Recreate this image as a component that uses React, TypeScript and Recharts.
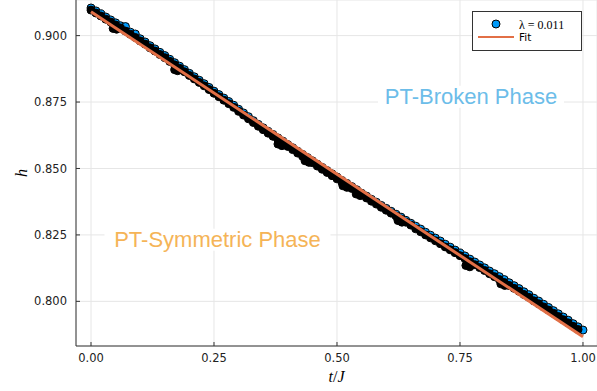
import React from 'react';
import {
  ComposedChart,
  Scatter,
  Line,
  XAxis,
  YAxis,
  CartesianGrid,
  ReferenceDot,
  Legend,
} from 'recharts';

// time grid t/J
const tValues = [
  0.0, 0.01, 0.02, 0.03, 0.04, 0.05, 0.06, 0.07, 0.08, 0.09,
  0.1, 0.11, 0.12, 0.13, 0.14, 0.15, 0.16, 0.17, 0.18, 0.19,
  0.2, 0.21, 0.22, 0.23, 0.24, 0.25, 0.26, 0.27, 0.28, 0.29,
  0.3, 0.31, 0.32, 0.33, 0.34, 0.35, 0.36, 0.37, 0.38, 0.39,
  0.4, 0.41, 0.42, 0.43, 0.44, 0.45, 0.46, 0.47, 0.48, 0.49,
  0.5, 0.51, 0.52, 0.53, 0.54, 0.55, 0.56, 0.57, 0.58, 0.59,
  0.6, 0.61, 0.62, 0.63, 0.64, 0.65, 0.66, 0.67, 0.68, 0.69,
  0.7, 0.71, 0.72, 0.73, 0.74, 0.75, 0.76, 0.77, 0.78, 0.79,
  0.8, 0.81, 0.82, 0.83, 0.84, 0.85, 0.86, 0.87, 0.88, 0.89,
  0.9, 0.91, 0.92, 0.93, 0.94, 0.95, 0.96, 0.97, 0.98, 0.99,
  1.0,
];

// h(t) for lambda = 0.011
const hLambda = [
  0.9104, 0.9093, 0.9082, 0.907, 0.9059, 0.9048, 0.9037, 0.9034, 0.9013, 0.9006,
  0.8988, 0.8976, 0.8962, 0.895, 0.8937, 0.8925, 0.8911, 0.8898, 0.8885, 0.8872,
  0.8858, 0.8845, 0.8832, 0.8819, 0.8805, 0.8791, 0.8778, 0.8765, 0.8752, 0.8738,
  0.8723, 0.8709, 0.8695, 0.868, 0.8666, 0.8653, 0.864, 0.8628, 0.8615, 0.8603,
  0.859, 0.8578, 0.8565, 0.8553, 0.8541, 0.8529, 0.8516, 0.8504, 0.8492, 0.848,
  0.8468, 0.8455, 0.8444, 0.8432, 0.842, 0.8407, 0.8396, 0.8384, 0.8373, 0.8361,
  0.835, 0.8339, 0.8328, 0.8317, 0.8305, 0.8294, 0.8283, 0.8272, 0.826, 0.8249,
  0.8238, 0.8227, 0.8215, 0.8204, 0.8193, 0.8182, 0.8171, 0.8159, 0.8148, 0.8137,
  0.8126, 0.8114, 0.8104, 0.8093, 0.8082, 0.807, 0.8059, 0.8048, 0.8036, 0.8025,
  0.8012, 0.8001, 0.7989, 0.7977, 0.7965, 0.7953, 0.7941, 0.7929, 0.7916, 0.7904,
  0.7892,
];

// trajectory samples drawn in black (no legend entry)
const hTrajectory = [
  0.9096, 0.9085, 0.9074, 0.9062, 0.9051, 0.904, 0.9029, 0.9017, 0.9005, 0.8993,
  0.898, 0.8968, 0.8954, 0.8942, 0.8929, 0.8917, 0.8903, 0.889, 0.8877, 0.8864,
  0.885, 0.8837, 0.8824, 0.8811, 0.8797, 0.8783, 0.877, 0.8757, 0.8744, 0.873,
  0.8715, 0.8701, 0.8687, 0.8673, 0.8659, 0.8646, 0.8633, 0.8621, 0.8608, 0.8596,
  0.8583, 0.8571, 0.8558, 0.8546, 0.8534, 0.8522, 0.8509, 0.8497, 0.8485, 0.8473,
  0.8461, 0.8448, 0.8437, 0.8425, 0.8413, 0.84, 0.8389, 0.8377, 0.8366, 0.8354,
  0.8343, 0.8332, 0.8321, 0.831, 0.8298, 0.8287, 0.8273, 0.8262, 0.825, 0.8239,
  0.8228, 0.8217, 0.8205, 0.8194, 0.8183, 0.8172, 0.8161, 0.8149, 0.8138, 0.8127,
  0.8116, 0.8104, 0.8093, 0.8082, 0.8071, 0.806, 0.8049, 0.8038, 0.8026, 0.8015,
  0.8002, 0.7991, 0.7979, 0.7967, 0.7955, 0.7943, 0.7931, 0.7919, 0.7906, 0.7894,
];

// jumps in the trajectory
const jumpT = [0.045, 0.052, 0.17, 0.176, 0.38, 0.388, 0.435, 0.443, 0.512, 0.52, 0.539, 0.547, 0.624, 0.632, 0.762, 0.77, 0.833, 0.841];
const jumpH = [0.9027, 0.9024, 0.8872, 0.8868, 0.8592, 0.8586, 0.8529, 0.8523, 0.8435, 0.8429, 0.8404, 0.8398, 0.8304, 0.8298, 0.8135, 0.813, 0.8066, 0.806];

// linear fit
const fitT = [0, 1];
const fitH = [0.909, 0.7867];

const xTicks = [0, 0.25, 0.5, 0.75, 1];
const yTicks = [0.8, 0.825, 0.85, 0.875, 0.9];

const seriesName = 'λ = 0.011';
const fitName = 'Fit';

const BLUE = '#009af9';
const ORANGE = '#e26f46';
const AXIS = '#333333';

const lambdaData = tValues.map((t, i) => ({ t, h: hLambda[i] }));
const trajectoryData = [
  ...hTrajectory.map((h, i) => ({ t: tValues[i], h })),
  ...jumpT.map((t, i) => ({ t, h: jumpH[i] })),
];
const fitData = fitT.map((t, i) => ({ t, h: fitH[i] }));

const BlueDot = (props: any) => (
  <circle cx={props.cx} cy={props.cy} r={4} fill={BLUE} stroke="#000" strokeWidth={1} />
);
const BlackDot = (props: any) => (
  <circle cx={props.cx} cy={props.cy} r={4} fill="#000" stroke="#000" strokeWidth={1} />
);

const annotation = (label: string, color: string, boxW: number) => (props: any) => (
  <g>
    <rect x={props.cx - boxW / 2} y={props.cy - 11} width={boxW} height={22} fill="#fff" />
    <text
      x={props.cx}
      y={props.cy}
      textAnchor="middle"
      dominantBaseline="central"
      fontFamily="'Liberation Sans', Arial, sans-serif"
      fontSize={22}
      fill={color}
    >
      {label}
    </text>
  </g>
);

const renderLegend = () => (
  <div
    style={{
      width: 110,
      height: 40,
      boxSizing: 'border-box',
      border: `1px solid ${AXIS}`,
      background: '#fff',
    }}
  >
    <svg width={108} height={38} style={{ display: 'block' }}>
      <circle cx={23} cy={12} r={4} fill={BLUE} stroke="#000" strokeWidth={1} />
      <text x={46} y={13} dominantBaseline="central" fontFamily="'Liberation Serif', serif" fontSize={12} fill="#000">
        {seriesName}
      </text>
      <line x1={5} x2={41} y1={25} y2={25} stroke={ORANGE} strokeWidth={2} />
      <text x={46} y={25} dominantBaseline="central" fontFamily="'DejaVu Sans', sans-serif" fontSize={10.5} fill="#000">
        {fitName}
      </text>
    </svg>
  </div>
);

const XLabel = (props: any) => {
  const vb = props.viewBox;
  return (
    <text
      x={vb.x + vb.width / 2}
      y={vb.y + 30}
      textAnchor="middle"
      dominantBaseline="central"
      fontFamily="'Liberation Serif', serif"
      fontSize={16}
      fill="#000"
    >
      <tspan fontStyle="italic">t</tspan>
      <tspan>/</tspan>
      <tspan fontStyle="italic">J</tspan>
    </text>
  );
};

const YLabel = (props: any) => {
  const vb = props.viewBox;
  const x = vb.x + 21;
  const y = vb.y + vb.height / 2;
  return (
    <text
      x={x}
      y={y}
      transform={`rotate(-90, ${x}, ${y})`}
      textAnchor="middle"
      dominantBaseline="central"
      fontFamily="'Liberation Serif', serif"
      fontStyle="italic"
      fontSize={16}
      fill="#000"
    >
      h
    </text>
  );
};

const tickStyle = { fontFamily: "'DejaVu Sans', sans-serif", fontSize: 11.5, fill: '#222' };

export default function App() {
  return (
    <div style={{ position: 'absolute', left: 0, top: 0, background: '#fff' }}>
      <ComposedChart width={597} height={391} margin={{ top: 0, right: 0, bottom: 0, left: 0 }}>
        <CartesianGrid stroke="#e6e6e6" strokeWidth={1} />
        <XAxis
          dataKey="t"
          type="number"
          domain={[-0.0305, 1.0285]}
          allowDataOverflow
          ticks={xTicks}
          tickFormatter={(v: number) => v.toFixed(2)}
          height={45}
          tickSize={-4}
          tickMargin={12}
          axisLine={{ stroke: AXIS, strokeWidth: 1 }}
          tickLine={{ stroke: AXIS, strokeWidth: 1 }}
          tick={tickStyle}
          label={<XLabel />}
        />
        <YAxis
          dataKey="h"
          type="number"
          domain={[0.7832, 0.9134]}
          allowDataOverflow
          ticks={yTicks}
          tickFormatter={(v: number) => v.toFixed(3)}
          width={76}
          tickSize={-4}
          tickMargin={13}
          axisLine={{ stroke: AXIS, strokeWidth: 1 }}
          tickLine={{ stroke: AXIS, strokeWidth: 1 }}
          tick={tickStyle}
          label={<YLabel />}
        />
        <ReferenceDot x={0.7724} y={0.877} r={0} shape={annotation('PT-Broken Phase', '#6cbde9', 186)} />
        <ReferenceDot x={0.2571} y={0.8232} r={0} shape={annotation('PT-Symmetric Phase', '#f5b457', 226)} />
        <Scatter
          name={seriesName}
          data={lambdaData}
          dataKey="h"
          shape={BlueDot}
          isAnimationActive={false}
          zIndex={600}
        />
        <Scatter
          name="trajectory"
          data={trajectoryData}
          dataKey="h"
          shape={BlackDot}
          legendType="none"
          isAnimationActive={false}
          zIndex={610}
        />
        <Line
          name={fitName}
          data={fitData}
          dataKey="h"
          stroke={ORANGE}
          strokeWidth={3}
          dot={false}
          isAnimationActive={false}
          zIndex={700}
        />
        <Legend
          verticalAlign="middle"
          align="center"
          layout="horizontal"
          content={renderLegend}
          wrapperStyle={{ position: 'absolute', left: 472, top: 11, width: 110, height: 40 }}
        />
      </ComposedChart>
    </div>
  );
}
